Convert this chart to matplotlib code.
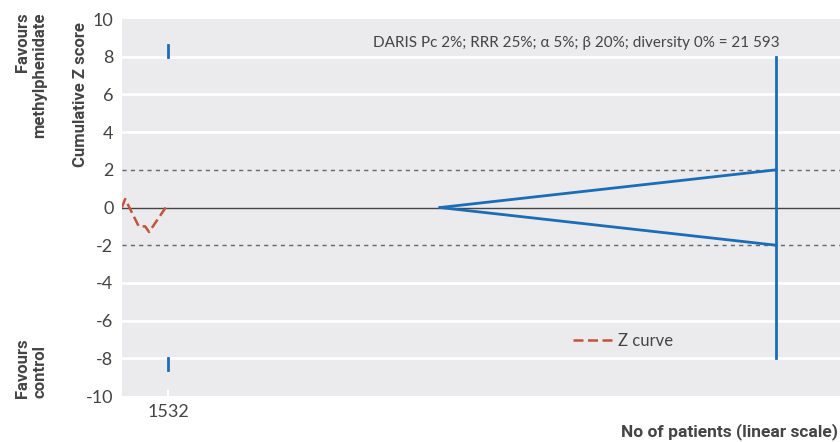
import matplotlib

matplotlib.use("Agg")
from matplotlib import pyplot as plt

# cumulative Z curve (patients, Z)
z_patients = [0, 110, 560, 770, 900, 1532]
z_scores = [0.0, 0.45, -1.0, -1.0, -1.3, 0.2]

# trial sequential boundaries
first_look = 1532
boundary_top = [8.0, 8.6]
boundary_bottom = [-8.0, -8.6]
futility_start = 10500
daris = 21593
daris_z = [-2.0, 2.0]
daris_span = [-8.0, 8.0]
conventional = [2.0, -2.0]

y_ticks = list(range(-10, 11, 2))
x_ticks = [1532]

BLUE = "#1b6db5"
RED = "#c4533a"
TEXT = "#444444"
LABEL_FONT = ["Roboto", "DejaVu Sans"]

plt.rcParams["font.family"] = ["Lato", "DejaVu Sans"]

fig = plt.figure(figsize=(8.4, 4.42), dpi=100)
ax = fig.add_axes([0.145, 0.104, 0.855, 0.853])
ax.set_facecolor("#ebebee")
for spine in ax.spines.values():
    spine.set_visible(False)

ax.set_xlim(0, 23700)
ax.set_ylim(-10, 10)

for y in y_ticks:
    if y in (-10, 10, 0) or abs(y) == 2:
        continue
    ax.axhline(y, color="white", lw=2, zorder=1)
for y in conventional:
    ax.axhline(y, color="#666666", lw=1, ls=(0, (3, 3)), zorder=2)
ax.axhline(0, color="#444444", lw=1, zorder=2)

# boundaries
ax.plot([first_look, first_look], boundary_top, color=BLUE, lw=2, zorder=3)
ax.plot([first_look, first_look], boundary_bottom, color=BLUE, lw=2, zorder=3)
ax.plot([futility_start, daris], [0, daris_z[1]], color=BLUE, lw=2, zorder=3)
ax.plot([futility_start, daris], [0, daris_z[0]], color=BLUE, lw=2, zorder=3)
ax.plot([daris, daris], daris_span, color=BLUE, lw=2, zorder=3)

ax.plot(z_patients, z_scores, color=RED, lw=1.8, ls=(0, (4, 1.8)), zorder=4,
        label="Z curve")

ax.text(daris + 100, 8.35, "DARIS Pc 2%; RRR 25%; α 5%; β 20%; diversity 0% = 21 593",
        ha="right", va="bottom", fontsize=11, color=TEXT)

leg = ax.legend(loc="center left", bbox_to_anchor=(0.607, 0.147), frameon=False,
                fontsize=12, handlelength=2.4, handletextpad=0.3)
for t in leg.get_texts():
    t.set_color(TEXT)

ax.set_yticks(y_ticks)
ax.set_yticklabels([str(v) for v in y_ticks])
ax.set_xticks(x_ticks)
ax.set_xticklabels([str(v) for v in x_ticks])
ax.tick_params(axis="y", length=0, labelsize=13, labelcolor=TEXT, pad=6)
ax.tick_params(axis="x", direction="in", length=4, width=1.5, color="white",
               labelsize=13, labelcolor=TEXT, pad=6)

ax.set_ylabel("Cumulative Z score", fontsize=12, fontweight="bold", color=TEXT,
              family=LABEL_FONT)
ax.yaxis.set_label_coords(-0.047, 0.8)

fig.text(0.037, 0.972, "Favours\nmethylphenidate", rotation=90, ha="center",
         va="top", multialignment="right", fontsize=12, fontweight="bold",
         color=TEXT, linespacing=1.25, family=LABEL_FONT)
fig.text(0.037, 0.1, "Favours\ncontrol", rotation=90, ha="center",
         va="bottom", multialignment="left", fontsize=12, fontweight="bold",
         color=TEXT, linespacing=1.25, family=LABEL_FONT)
fig.text(0.998, 0.004, "No of patients (linear scale)", ha="right", va="bottom",
         fontsize=12.5, fontweight="bold", color=TEXT, family=LABEL_FONT)

fig.savefig("out.png", dpi=100)
